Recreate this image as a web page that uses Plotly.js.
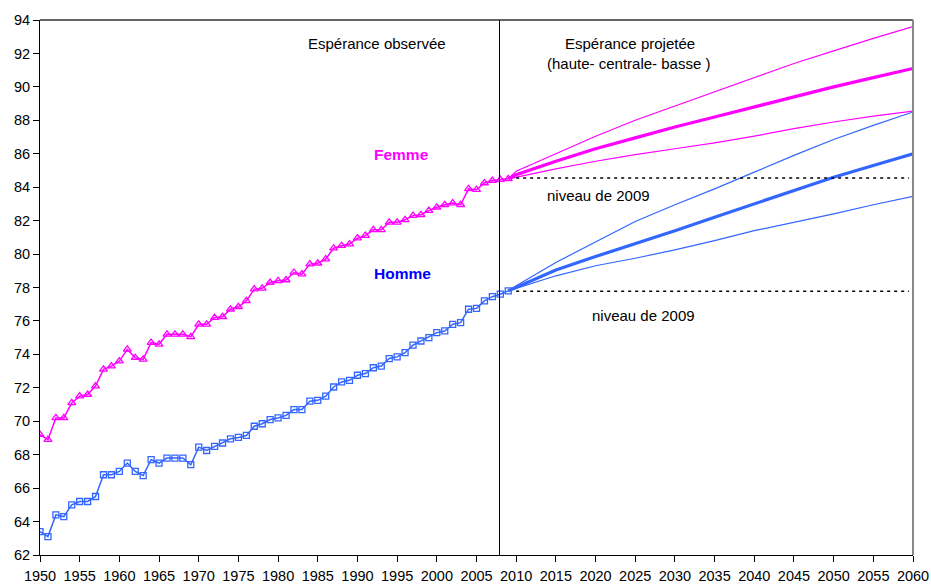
<!DOCTYPE html>
<html>
<head>
<meta charset="utf-8">
<script src="https://cdn.plot.ly/plotly-3.0.1.min.js"></script>
<style>html,body{margin:0;padding:0;background:#fff;}#chart{width:931px;height:586px;}</style>
</head>
<body>
<div id="chart"></div>
<script>
// ---- Observed data (1950-2009) ----
var obsYears = [];
for (var y = 1950; y <= 2009; y++) obsYears.push(y);

var femmeObs = [69.2, 68.9, 70.2, 70.2, 71.1, 71.5, 71.6, 72.1, 73.1, 73.3,
                73.6, 74.3, 73.8, 73.7, 74.7, 74.6, 75.2, 75.2, 75.2, 75.05,
                75.8, 75.8, 76.2, 76.25, 76.7, 76.85, 77.2, 77.9, 77.95, 78.3,
                78.4, 78.45, 78.9, 78.8, 79.4, 79.45, 79.7, 80.35, 80.5, 80.6,
                80.95, 81.1, 81.45, 81.45, 81.9, 81.9, 82.05, 82.3, 82.35, 82.6,
                82.8, 82.95, 83.05, 82.95, 83.9, 83.85, 84.25, 84.4, 84.45, 84.5];

var hommeObs = [63.4, 63.1, 64.4, 64.3, 65.0, 65.2, 65.2, 65.5, 66.8, 66.8,
                67.0, 67.5, 67.0, 66.75, 67.7, 67.5, 67.8, 67.8, 67.8, 67.4,
                68.45, 68.25, 68.5, 68.7, 68.95, 69.03, 69.15, 69.7, 69.85, 70.1,
                70.2, 70.35, 70.7, 70.7, 71.2, 71.25, 71.5, 72.05, 72.35, 72.45,
                72.75, 72.85, 73.2, 73.3, 73.75, 73.85, 74.1, 74.55, 74.8, 75.0,
                75.3, 75.4, 75.8, 75.9, 76.7, 76.75, 77.2, 77.45, 77.6, 77.8];

// ---- Projections (haute / centrale / basse) ----
var projYears = [2009, 2010, 2015, 2020, 2025, 2030, 2035, 2040, 2045, 2050, 2055, 2060];

var femmeHaute    = [84.5, 84.95, 86.0, 87.05, 88.0, 88.85, 89.7, 90.55, 91.4, 92.15, 92.9, 93.6];
var femmeCentrale = [84.5, 84.75, 85.55, 86.3, 86.95, 87.6, 88.2, 88.8, 89.4, 90.0, 90.55, 91.1];
var femmeBasse    = [84.5, 84.6, 85.1, 85.55, 85.95, 86.3, 86.65, 87.05, 87.5, 87.9, 88.25, 88.55];

var hommeHaute    = [77.8, 78.1, 79.5, 80.75, 81.95, 82.95, 83.9, 84.9, 85.9, 86.85, 87.7, 88.5];
var hommeCentrale = [77.8, 78.0, 79.05, 79.85, 80.6, 81.4, 82.2, 83.0, 83.8, 84.6, 85.3, 86.0];
var hommeBasse    = [77.8, 77.95, 78.7, 79.3, 79.75, 80.25, 80.8, 81.4, 81.9, 82.4, 82.95, 83.45];

// ---- Niveau de 2009 ----
var niveauYears = [2010, 2059.5];
var niveauFemme = 84.55;
var niveauHomme = 77.78;

// ---- Separation observed / projected ----
var separationYear = 2007.9;

// ---- Axis ticks ----
var xTickVals = [];
for (var t = 1950; t <= 2060; t += 5) xTickVals.push(t);
var yTickVals = [62, 64, 66, 68, 70, 72, 74, 76, 78, 80, 82, 84, 86, 88, 90, 92, 94];

var MAG = '#FF00FF';
var BLU = '#3366FF';
var FONT = 'Arial, "Liberation Sans", sans-serif';

var traces = [
  {x: obsYears, y: femmeObs, mode: 'lines+markers', name: 'Femme',
   line: {color: MAG, width: 1.5},
   marker: {symbol: 'triangle-up-open', size: 7, color: MAG, line: {width: 1.3, color: MAG}}},
  {x: obsYears, y: hommeObs, mode: 'lines+markers', name: 'Homme',
   line: {color: BLU, width: 1.5},
   marker: {symbol: 'square-open', size: 6, color: BLU, line: {width: 1.3, color: BLU}}},
  {x: projYears, y: femmeHaute, mode: 'lines', line: {color: MAG, width: 1.2}},
  {x: projYears, y: femmeCentrale, mode: 'lines', line: {color: MAG, width: 3.2}},
  {x: projYears, y: femmeBasse, mode: 'lines', line: {color: MAG, width: 1.2}},
  {x: projYears, y: hommeHaute, mode: 'lines', line: {color: BLU, width: 1.2}},
  {x: projYears, y: hommeCentrale, mode: 'lines', line: {color: BLU, width: 3.2}},
  {x: projYears, y: hommeBasse, mode: 'lines', line: {color: BLU, width: 1.2}},
  {x: niveauYears, y: [niveauFemme, niveauFemme], mode: 'lines',
   line: {color: '#000', width: 1.5, dash: '3px,4px'}},
  {x: niveauYears, y: [niveauHomme, niveauHomme], mode: 'lines',
   line: {color: '#000', width: 1.5, dash: '3px,4px'}}
];

function ann(px, py, text, size, color) {
  return {xref: 'paper', yref: 'paper', x: (px - 40) / 873, y: (555 - py) / 535,
          xanchor: 'center', yanchor: 'middle', text: text, showarrow: false,
          font: {size: size, color: color}};
}

var layout = {
  width: 931, height: 586,
  margin: {l: 40, r: 18, t: 20, b: 31},
  paper_bgcolor: '#fff', plot_bgcolor: '#fff',
  showlegend: false,
  font: {family: FONT, size: 14, color: '#000'},
  xaxis: {
    range: [1950, 2060], tickvals: xTickVals, ticktext: xTickVals.map(String),
    ticks: 'outside', ticklen: 6, tickcolor: '#000', tickwidth: 1,
    showline: true, linecolor: '#000', linewidth: 1,
    showgrid: false, zeroline: false, tickangle: 0,
    tickfont: {family: FONT, size: 14.5, color: '#000'},
    ticklabelstandoff: 2
  },
  yaxis: {
    range: [62, 94], tickvals: yTickVals,
    ticks: 'outside', ticklen: 6, tickcolor: '#000', tickwidth: 1,
    showline: true, linecolor: '#000', linewidth: 1,
    showgrid: false, zeroline: false,
    tickfont: {family: FONT, size: 14.5, color: '#000'}
  },
  shapes: [
    {type: 'line', xref: 'x', yref: 'paper', x0: separationYear, x1: separationYear, y0: 0, y1: 1,
     line: {color: '#000', width: 1}},
    {type: 'line', xref: 'paper', yref: 'paper', x0: 0, x1: 1, y0: 1, y1: 1,
     line: {color: '#333', width: 1.5}},
    {type: 'line', xref: 'paper', yref: 'paper', x0: 1, x1: 1, y0: 0, y1: 1,
     line: {color: '#888', width: 2}}
  ],
  annotations: [
    ann(377, 44, 'Espérance observée', 15, '#000'),
    ann(630, 44, 'Espérance projetée', 15, '#000'),
    ann(628, 64, '(haute- centrale- basse )', 15, '#000'),
    ann(401, 154, '<b>Femme</b>', 15.5, '#FF00FF'),
    ann(402, 273, '<b>Homme</b>', 15.5, '#0000FF'),
    ann(598, 196, 'niveau de 2009', 15, '#000'),
    ann(643, 315, 'niveau de 2009', 15, '#000')
  ]
};

Plotly.newPlot('chart', traces, layout, {displayModeBar: false, staticPlot: true});
</script>
</body>
</html>
